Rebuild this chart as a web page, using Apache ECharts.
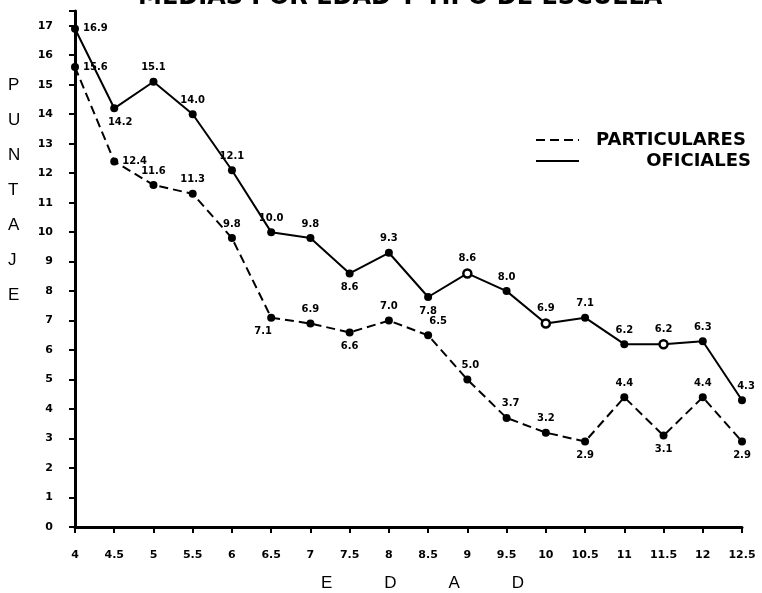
<!DOCTYPE html>
<html>
<head>
<meta charset="utf-8">
<script src="https://cdn.jsdelivr.net/npm/echarts@6/dist/echarts.min.js"></script>
<style>
  html, body { margin: 0; padding: 0; background: #fff; }
  #chart { width: 762px; height: 593px; }
</style>
</head>
<body>
<div id="chart"></div>
<script>
// edades (eje x) y medias de puntaje por tipo de escuela
const edades = [4, 4.5, 5, 5.5, 6, 6.5, 7, 7.5, 8, 8.5, 9, 9.5, 10, 10.5, 11, 11.5, 12, 12.5]
const oficiales = [16.9, 14.2, 15.1, 14.0, 12.1, 10.0, 9.8, 8.6, 9.3, 7.8, 8.6, 8.0, 6.9, 7.1, 6.2, 6.2, 6.3, 4.3]
const particulares = [15.6, 12.4, 11.6, 11.3, 9.8, 7.1, 6.9, 6.6, 7.0, 6.5, 5.0, 3.7, 3.2, 2.9, 4.4, 3.1, 4.4, 2.9]
const yTicks = [0, 1, 2, 3, 4, 5, 6, 7, 8, 9, 10, 11, 12, 13, 14, 15, 16, 17]

// where each value label sits relative to its point
const ofiLabelPos = ['right', 'bottom', 'top', 'top', 'top', 'top', 'top', 'bottom', 'top', 'bottom',
  'top', 'top', 'top', 'top', 'top', 'top', 'top', 'top']
const parLabelPos = ['right', 'right', 'top', 'top', 'top', 'bottom', 'top', 'bottom', 'top', 'top',
  'top', 'top', 'top', 'bottom', 'top', 'bottom', 'top', 'bottom']
// small nudges (index -> [dx, dy]) so labels sit like the original
const ofiLabelNudge = { 1: [6, 0], 17: [4, 0] }
const parLabelNudge = { 5: [-8, 0], 9: [10, 0], 10: [3, 0], 11: [4, 0] }
// puntos dibujados huecos en el original
const ofiHollow = [9, 10, 11.5]

const chart = echarts.init(document.getElementById('chart'))

const labelFont = { fontFamily: 'DejaVu Sans', fontWeight: 'bold', fontSize: 10, color: '#000' }

function buildData(values, pos, nudge, hollow) {
  return edades.map((x, i) => {
    const item = {
      value: [x, values[i]],
      label: { position: pos[i], distance: pos[i] === 'right' ? 4 : 5, offset: nudge[i] || [0, 0] }
    }
    if (hollow && hollow.indexOf(x) >= 0) item.itemStyle = { color: '#fff', borderColor: '#000', borderWidth: 2.5 }
    return item
  })
}

chart.setOption({
  backgroundColor: '#fff',
  animation: false,
  title: {
    text: 'MEDIAS POR EDAD Y TIPO DE ESCUELA',
    left: 133,
    top: -19,
    textStyle: { fontFamily: 'DejaVu Sans', fontWeight: 'bold', fontSize: 24, color: '#000' }
  },
  legend: {
    orient: 'vertical',
    left: 530,
    top: 126,
    itemWidth: 43,
    itemHeight: 10,
    itemGap: 3,
    itemStyle: { opacity: 0 },
    formatter: (n) => n === 'OFICIALES' ? '        OFICIALES' : n,
    textStyle: { fontFamily: 'DejaVu Sans', fontWeight: 'bold', fontSize: 18, color: '#000', padding: [0, 0, 0, 12] },
    data: ['PARTICULARES', 'OFICIALES']
  },
  graphic: [{
    type: 'text',
    left: 8,
    top: 68,
    style: {
      text: 'P\nU\nN\nT\nA\nJ\nE',
      font: '17px "Liberation Sans"',
      lineHeight: 35,
      fill: '#000'
    }
  }],
  grid: { left: 75, right: 20, top: 11, bottom: 66, containLabel: false, outerBoundsMode: 'none' },
  xAxis: {
    type: 'value',
    min: 4,
    max: 12.5,
    interval: 0.5,
    name: 'E           D           A           D',
    nameLocation: 'middle',
    nameGap: 48,
    nameTextStyle: { fontFamily: 'Liberation Sans', fontSize: 17, color: '#000', padding: [0, 0, 0, 28] },
    axisLine: { onZero: false, lineStyle: { color: '#000', width: 3 } },
    axisTick: { length: 6, lineStyle: { color: '#000', width: 2 } },
    splitLine: { show: false },
    axisLabel: { margin: 23, ...labelFont, fontSize: 11 }
  },
  yAxis: {
    type: 'value',
    min: 0,
    max: 17.5,
    interval: 1,
    axisLine: { show: true, lineStyle: { color: '#000', width: 3 } },
    axisTick: { length: 6, lineStyle: { color: '#000', width: 2 } },
    splitLine: { show: false },
    axisLabel: {
      margin: 22,
      ...labelFont,
      fontSize: 11,
      formatter: (v) => yTicks.indexOf(v) >= 0 ? String(v) : ''
    }
  },
  series: [
    {
      name: 'PARTICULARES',
      type: 'line',
      symbol: 'circle',
      symbolSize: 8,
      itemStyle: { color: '#000' },
      lineStyle: { color: '#000', width: 2, type: [9, 5] },
      label: { show: true, ...labelFont, formatter: (p) => p.value[1].toFixed(1) },
      data: buildData(particulares, parLabelPos, parLabelNudge)
    },
    {
      name: 'OFICIALES',
      type: 'line',
      symbol: 'circle',
      symbolSize: 8,
      itemStyle: { color: '#000' },
      lineStyle: { color: '#000', width: 2 },
      label: { show: true, ...labelFont, formatter: (p) => p.value[1].toFixed(1) },
      data: buildData(oficiales, ofiLabelPos, ofiLabelNudge, ofiHollow)
    }
  ]
})
</script>
</body>
</html>
